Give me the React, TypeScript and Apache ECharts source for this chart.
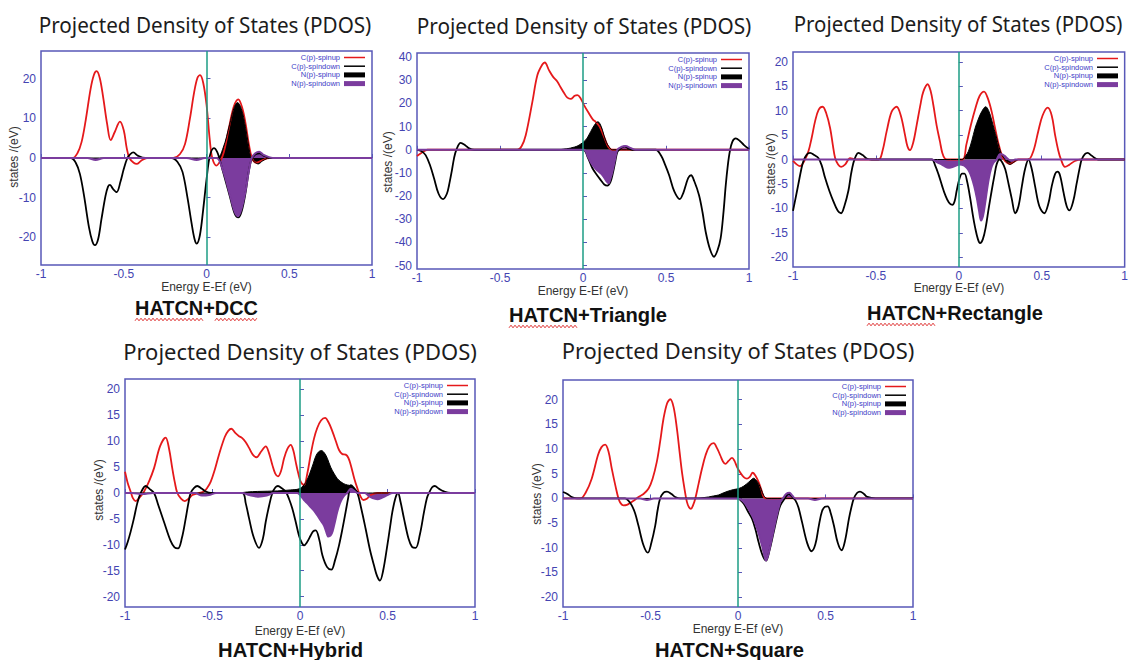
import React, { useEffect, useRef } from "react";
import * as echarts from "echarts";

// ---------- PDOS data: [E - Ef (eV), states/(eV)] ----------
// HATCN+DCC
const dccCUp = [[-1,0],[-0.81,0],[-0.78,1.2],[-0.755,4],[-0.73,9.5],[-0.7,17.5],[-0.68,21],[-0.664,21.9],[-0.645,20.2],[-0.625,15.5],[-0.6,8.5],[-0.579,4.5],[-0.555,6.5],[-0.523,9.2],[-0.5,7],[-0.482,2.5],[-0.466,0],[-0.44,-1.2],[-0.422,-1.5],[-0.395,-0.7],[-0.36,0],[-0.2,0],[-0.16,1],[-0.13,3.5],[-0.1,10],[-0.075,16.5],[-0.055,20.2],[-0.039,20.9],[-0.02,19],[0,13.5],[0.02,4.5],[0.035,0],[0.06,-1.9],[0.085,-0.6],[0.105,1.5],[0.135,7.5],[0.165,13],[0.192,14.8],[0.215,12.8],[0.237,8.5],[0.256,3.5],[0.275,0],[0.3,-1.2],[0.34,-0.5],[0.38,0],[1,0]];
const dccCDown = [[-1,0],[-0.82,0],[-0.79,-1.2],[-0.765,-4],[-0.74,-9.5],[-0.71,-17.5],[-0.69,-21],[-0.674,-22],[-0.655,-20.5],[-0.635,-15.5],[-0.61,-9.5],[-0.595,-7.2],[-0.583,-6.8],[-0.565,-7.8],[-0.543,-8.6],[-0.52,-6],[-0.5,-2.8],[-0.478,0],[-0.46,1],[-0.442,1.4],[-0.415,0.6],[-0.37,0],[-0.21,0],[-0.175,-1],[-0.145,-3.5],[-0.115,-10],[-0.09,-16.5],[-0.072,-20.5],[-0.059,-21.6],[-0.04,-19.5],[-0.02,-13],[0,-5.5],[0.02,0.5],[0.045,2.5],[0.065,1.5],[0.08,-0.5],[0.1,-3.5],[0.14,-9.5],[0.17,-14],[0.192,-15],[0.212,-13.5],[0.235,-9],[0.255,-3.5],[0.275,0],[0.3,1],[0.32,1.2],[0.35,0.5],[0.39,0],[1,0]];
const dccNUp = [[-1,0],[0.06,0],[0.1,2.5],[0.14,8.5],[0.165,12.5],[0.187,14],[0.21,12.5],[0.235,8],[0.255,3],[0.27,0],[0.29,-1],[0.313,-1.5],[0.34,-0.7],[0.38,0],[1,0]];
const dccNDown = [[-1,0],[-0.72,0],[-0.67,-0.5],[-0.62,0],[-0.12,0],[-0.06,-0.5],[-0.01,0],[0.06,0],[0.1,-3.2],[0.14,-9],[0.17,-13.5],[0.19,-14.7],[0.21,-13],[0.235,-8.5],[0.255,-3.5],[0.273,0],[0.295,1.2],[0.318,1.6],[0.345,0.8],[0.4,0],[1,0]];

// HATCN+Triangle
const triCUp = [[-1,-2.7],[-0.97,-1.2],[-0.937,0],[-0.395,0],[-0.37,1.5],[-0.345,6.3],[-0.305,20.7],[-0.275,32.2],[-0.245,36.8],[-0.23,37.7],[-0.205,34.4],[-0.18,31.5],[-0.155,29.5],[-0.135,27],[-0.114,24.5],[-0.094,22.5],[-0.074,22],[-0.05,23.3],[-0.034,23.6],[-0.014,22.2],[0.006,19.3],[0.036,15.7],[0.06,13],[0.076,12.1],[0.1,10],[0.13,5],[0.155,1],[0.18,0],[1,0]];
const triCDown = [[-1,0],[-0.975,-0.5],[-0.948,-2.3],[-0.92,-7],[-0.897,-12.4],[-0.87,-19],[-0.843,-21.3],[-0.82,-19],[-0.807,-15.3],[-0.79,-9],[-0.777,-3.7],[-0.763,0],[-0.737,3],[-0.71,2],[-0.686,0.6],[-0.656,0],[0,0],[0.03,-3.5],[0.057,-8],[0.085,-11],[0.107,-13.1],[0.128,-15],[0.147,-15.5],[0.165,-14],[0.177,-11],[0.192,-6],[0.207,-0.9],[0.227,0.6],[0.25,1.5],[0.275,0.6],[0.3,0],[0.438,0],[0.47,-2.5],[0.495,-6.5],[0.519,-11],[0.55,-18],[0.583,-21.3],[0.605,-18.5],[0.619,-15.3],[0.635,-12],[0.651,-11],[0.67,-13.5],[0.699,-19.6],[0.72,-27],[0.739,-35.4],[0.765,-43],[0.789,-46.2],[0.81,-43.5],[0.829,-38.3],[0.845,-28],[0.86,-15.3],[0.872,-7],[0.884,-0.9],[0.9,3.5],[0.92,4.9],[0.945,3.8],[0.97,2],[1,0.3]];
const triNUp = [[-1,0],[-0.164,0],[-0.1,0.4],[-0.05,1.2],[-0.024,2],[0.016,4.2],[0.046,7.8],[0.07,10.8],[0.09,12.1],[0.11,10],[0.126,6.3],[0.142,3],[0.157,1.3],[0.177,0],[1,0]];
const triNDown = [[-1,0],[0.005,0],[0.03,-3],[0.057,-6.6],[0.087,-9],[0.117,-10.9],[0.14,-13.5],[0.153,-14.5],[0.165,-12.5],[0.177,-9.5],[0.192,-4.5],[0.207,0],[0.23,1.2],[0.257,1.6],[0.285,0.8],[0.317,0],[1,0]];

// HATCN+Rectangle
const recCUp = [[-1,-0.3],[-0.978,-1],[-0.958,-1.35],[-0.935,-0.5],[-0.907,1.7],[-0.887,4.5],[-0.867,7.8],[-0.845,10.2],[-0.821,10.8],[-0.8,9.5],[-0.776,6.4],[-0.76,3],[-0.746,0.3],[-0.728,-1],[-0.71,-1.5],[-0.685,-1],[-0.656,0.3],[-0.626,0],[-0.485,0],[-0.46,1.8],[-0.435,5.8],[-0.405,9.8],[-0.375,10.8],[-0.35,9],[-0.325,5.1],[-0.31,2.7],[-0.295,1.9],[-0.275,3.5],[-0.254,7.1],[-0.23,11.5],[-0.214,13.9],[-0.188,15.4],[-0.17,14],[-0.154,11.2],[-0.134,7],[-0.114,3.7],[-0.1,1.4],[-0.084,0.2],[-0.06,0],[0.022,0],[0.045,3],[0.073,7.1],[0.1,10.5],[0.125,13],[0.152,13.9],[0.175,12.5],[0.198,9.8],[0.218,6.5],[0.238,3.4],[0.258,1],[0.278,-0.3],[0.308,-0.9],[0.34,-0.3],[0.359,0],[0.419,0],[0.45,1.8],[0.479,5.8],[0.505,9],[0.536,10.6],[0.56,9],[0.58,5.1],[0.6,1.8],[0.616,0],[0.64,-1.5],[0.665,-1.1],[0.7,-0.3],[0.74,0],[1,0]];
const recCDown = [[-1,-10.5],[-0.985,-8],[-0.968,-5.1],[-0.95,-2],[-0.937,-0.3],[-0.917,1],[-0.897,1.35],[-0.872,0.9],[-0.847,0.3],[-0.827,-1.2],[-0.807,-3.7],[-0.78,-6.5],[-0.757,-8.5],[-0.73,-10.5],[-0.71,-11],[-0.69,-9.5],[-0.666,-6.4],[-0.65,-3],[-0.636,-0.7],[-0.62,0.8],[-0.606,1.35],[-0.58,0.9],[-0.556,0.2],[-0.526,0],[-0.163,0],[-0.143,-1.2],[-0.123,-3],[-0.1,-5.5],[-0.084,-7.1],[-0.06,-8.8],[-0.039,-9.3],[-0.025,-8.5],[-0.013,-6.4],[0.005,-3.8],[0.02,-2.9],[0.034,-2.9],[0.05,-4.5],[0.068,-7.8],[0.085,-11.5],[0.098,-13.9],[0.115,-16.3],[0.128,-17.1],[0.145,-16.3],[0.162,-13.9],[0.18,-10],[0.198,-6.4],[0.215,-3.2],[0.228,-1],[0.245,0],[0.262,-0.6],[0.28,-2],[0.3,-5],[0.319,-8],[0.34,-11],[0.36,-9.5],[0.38,-5.5],[0.399,-2],[0.42,0],[0.44,-2],[0.46,-5.5],[0.485,-9.5],[0.515,-11],[0.54,-9],[0.56,-5.5],[0.58,-3],[0.595,-2.5],[0.61,-3.2],[0.63,-6.5],[0.65,-9.5],[0.667,-10.4],[0.69,-8.5],[0.71,-5],[0.73,-1.5],[0.741,0],[0.76,1.1],[0.777,1.35],[0.8,0.8],[0.84,0],[1,0]];
const recNUp = [[-1,0],[0.018,0],[0.04,0.7],[0.058,1.7],[0.078,3.8],[0.098,6.4],[0.118,8.3],[0.138,9.8],[0.162,10.8],[0.18,10],[0.198,8.1],[0.213,6.2],[0.228,4.4],[0.243,2.5],[0.258,1],[0.278,0],[0.293,-0.7],[0.308,-1],[0.33,-0.6],[0.359,0],[1,0]];
const recNDown = [[-1,0],[-0.163,0],[-0.13,-0.6],[-0.104,-1],[-0.084,-1.4],[-0.064,-1.7],[-0.044,-1.6],[-0.024,-1.35],[0.006,-1],[0.03,-1.2],[0.048,-1.7],[0.065,-2.6],[0.078,-3.7],[0.093,-5.5],[0.108,-7.8],[0.122,-10.5],[0.134,-12.5],[0.146,-11.5],[0.158,-9.1],[0.17,-6.2],[0.182,-3.7],[0.195,-1.8],[0.208,-0.7],[0.228,0],[0.248,1.15],[0.265,1],[0.278,0.7],[0.3,0],[0.319,-0.3],[0.34,0],[1,0]];

// HATCN+Hybrid
const hybCUp = [[-1,4.1],[-0.985,2],[-0.968,0.3],[-0.955,-1],[-0.939,-1.55],[-0.915,-0.8],[-0.891,0.3],[-0.862,2.3],[-0.834,4.8],[-0.8,9],[-0.768,10.7],[-0.748,8.5],[-0.73,4.8],[-0.715,2],[-0.701,0],[-0.68,-1.1],[-0.659,-1.55],[-0.637,-1.1],[-0.615,-0.4],[-0.58,0],[-0.549,0.3],[-0.53,1],[-0.51,2.2],[-0.487,4.5],[-0.463,7.4],[-0.43,10.8],[-0.41,12],[-0.392,12.4],[-0.37,11.6],[-0.35,11],[-0.33,10.6],[-0.31,9.8],[-0.291,8.7],[-0.27,7.4],[-0.248,6.9],[-0.222,8],[-0.196,9],[-0.178,7.8],[-0.158,5.4],[-0.142,3.8],[-0.126,3.2],[-0.108,4.3],[-0.091,6.7],[-0.072,8.5],[-0.053,9.3],[-0.038,8.2],[-0.025,6.1],[-0.01,3.8],[0.004,2.2],[0.023,1.55],[0.042,3.8],[0.061,7.4],[0.08,10.5],[0.099,12.6],[0.12,14],[0.143,14.5],[0.165,13.5],[0.185,11.9],[0.205,10],[0.223,8.3],[0.242,7.5],[0.261,7.4],[0.276,6.8],[0.29,5.4],[0.31,2.8],[0.328,0.9],[0.345,-0.6],[0.362,-1.35],[0.382,-1.1],[0.404,-0.4],[0.442,0],[1,0]];
const hybCDown = [[-1,-10.9],[-0.985,-9.5],[-0.968,-7.5],[-0.949,-4.9],[-0.93,-2],[-0.91,0],[-0.882,1.35],[-0.86,0.8],[-0.834,0],[-0.81,-2.3],[-0.777,-5.6],[-0.74,-9.2],[-0.717,-10.5],[-0.697,-10.7],[-0.675,-8.7],[-0.653,-4.9],[-0.638,-2],[-0.625,0],[-0.605,1],[-0.587,1.35],[-0.56,0.8],[-0.539,0.3],[-0.51,0],[-0.33,0],[-0.31,-2],[-0.291,-4.9],[-0.265,-8.5],[-0.234,-10.6],[-0.212,-8.8],[-0.196,-5.6],[-0.177,-2.5],[-0.158,0],[-0.14,1.1],[-0.126,1.35],[-0.104,0.9],[-0.082,0.3],[-0.062,-1.2],[-0.044,-3],[-0.025,-5.5],[-0.006,-8.2],[0.01,-9.6],[0.023,-10.1],[0.04,-9.5],[0.061,-8.2],[0.075,-7.4],[0.09,-7.2],[0.11,-9],[0.128,-12],[0.155,-14.3],[0.179,-14.8],[0.2,-13],[0.223,-10.1],[0.245,-6.5],[0.261,-3.6],[0.275,-1],[0.29,1.5],[0.305,1.1],[0.328,0],[0.35,-3],[0.375,-6.9],[0.4,-11],[0.423,-14],[0.44,-16],[0.457,-16.9],[0.475,-15],[0.499,-10.1],[0.515,-6.5],[0.528,-3.6],[0.545,-1],[0.56,0],[0.575,-1.8],[0.594,-4.9],[0.62,-8.8],[0.64,-10.4],[0.661,-10.6],[0.685,-8],[0.709,-3.6],[0.725,-1],[0.737,0],[0.755,1.1],[0.77,1.35],[0.795,0.8],[0.823,0.3],[0.861,0],[1,0]];
const hybNUp = [[-1,0],[-0.36,0],[-0.3,0.2],[-0.244,0.3],[-0.13,0.4],[-0.053,0.6],[-0.006,0.8],[0.023,1.55],[0.04,2.5],[0.055,3.7],[0.075,5.6],[0.09,7.1],[0.105,7.9],[0.122,8.2],[0.14,7.7],[0.156,6.7],[0.175,5],[0.194,3.8],[0.213,2.8],[0.232,2.2],[0.25,1.8],[0.27,1.55],[0.29,1.4],[0.305,1],[0.328,0.3],[0.347,0],[1,0]];
const hybNDown = [[-1,0],[-0.96,0],[-0.9,-0.2],[-0.84,0],[-0.6,0],[-0.56,-0.5],[-0.52,-0.4],[-0.48,0],[-0.33,0],[-0.29,-0.4],[-0.24,-0.7],[-0.19,-0.5],[-0.15,0],[-0.015,0],[0.005,-0.6],[0.023,-1.35],[0.042,-2],[0.061,-2.7],[0.08,-3.4],[0.099,-4.3],[0.118,-5.3],[0.137,-6.3],[0.15,-7.5],[0.162,-8.4],[0.175,-8.2],[0.187,-7.3],[0.2,-5.5],[0.213,-3.6],[0.228,-2],[0.242,-1],[0.258,-0.3],[0.27,0],[0.29,0.8],[0.31,0.4],[0.328,0],[0.37,0],[0.39,-0.5],[0.415,-1],[0.442,-1.2],[0.47,-0.9],[0.499,-0.4],[0.53,0],[1,0]];

// HATCN+Square
const squCUp = [[-1,0],[-0.9,0],[-0.87,1.2],[-0.836,4],[-0.8,8.8],[-0.78,10.4],[-0.759,10.9],[-0.74,9.5],[-0.721,6],[-0.7,2.5],[-0.683,0],[-0.67,-1],[-0.655,-1.4],[-0.635,-1.3],[-0.616,-0.9],[-0.59,-0.3],[-0.569,0.3],[-0.54,0.9],[-0.511,2],[-0.488,4],[-0.464,7.4],[-0.445,11.5],[-0.426,16.1],[-0.405,19.3],[-0.387,20.1],[-0.368,18.5],[-0.349,14.1],[-0.334,9.5],[-0.32,5.3],[-0.305,1.8],[-0.292,-0.7],[-0.28,-1.8],[-0.269,-2.1],[-0.256,-1.3],[-0.244,0],[-0.225,3],[-0.206,6],[-0.185,8.8],[-0.162,10.7],[-0.139,11.2],[-0.12,10.2],[-0.101,8.7],[-0.086,7.5],[-0.072,7],[-0.054,7.6],[-0.034,8.2],[-0.02,7.6],[-0.006,6.4],[0.01,5.4],[0.033,4.3],[0.051,4],[0.068,4.4],[0.084,5.2],[0.1,4.6],[0.118,3.3],[0.133,1.8],[0.147,0.3],[0.166,0],[1,0]];
const squCDown = [[-1,1.3],[-0.975,0.9],[-0.95,0.3],[-0.92,0],[-0.645,0],[-0.625,-0.5],[-0.607,-1.4],[-0.588,-3],[-0.569,-5.5],[-0.54,-9.5],[-0.515,-11],[-0.495,-9],[-0.473,-5.5],[-0.46,-2.5],[-0.445,0],[-0.425,1.2],[-0.406,1.4],[-0.38,0.9],[-0.359,0.3],[-0.33,0],[0,0],[0.015,-0.4],[0.033,-1.1],[0.055,-2.5],[0.08,-4.1],[0.1,-6.3],[0.118,-8.9],[0.14,-11.5],[0.16,-12.6],[0.18,-10.5],[0.204,-6.8],[0.225,-3.5],[0.242,-1.4],[0.267,0],[0.29,0.95],[0.31,0.3],[0.328,-0.4],[0.345,-1.8],[0.366,-4.8],[0.395,-9],[0.42,-10.7],[0.442,-9.3],[0.462,-5.5],[0.48,-2.6],[0.497,-1.7],[0.513,-1.6],[0.53,-3],[0.548,-5.5],[0.57,-9],[0.592,-10.5],[0.612,-8.5],[0.634,-4.1],[0.648,-1.8],[0.662,0],[0.68,1.1],[0.697,1.4],[0.72,0.9],[0.739,0.3],[0.786,0],[1,0]];
const squNUp = [[-1,0],[-0.244,0],[-0.2,0.15],[-0.168,0.3],[-0.14,0.5],[-0.111,0.7],[-0.085,1.1],[-0.063,1.4],[-0.025,1.8],[0.004,2],[0.033,2.5],[0.061,3.3],[0.08,3.9],[0.09,4.1],[0.104,3.7],[0.118,3],[0.133,1.8],[0.147,0.6],[0.166,0],[1,0]];
const squNDown = [[-1,0],[-0.56,0],[-0.52,-0.3],[-0.48,0],[0,0],[0.033,-0.7],[0.05,-1.5],[0.071,-2.8],[0.09,-4.2],[0.109,-6.1],[0.125,-8],[0.137,-9.5],[0.15,-11.5],[0.16,-12.6],[0.172,-11.5],[0.185,-9.5],[0.2,-7],[0.213,-4.8],[0.228,-2.5],[0.242,-0.7],[0.256,0],[0.275,0.9],[0.294,1.15],[0.31,0.6],[0.328,0],[0.4,0],[0.44,-0.3],[0.48,0],[1,0]];

// ---------- tick labels ----------
const xTicks = [-1, -0.5, 0, 0.5, 1];
const dccTicks = [-20, -10, 0, 10, 20];
const triTicks = [-50, -40, -30, -20, -10, 0, 10, 20, 30, 40];
const step5Ticks = [-20, -15, -10, -5, 0, 5, 10, 15, 20];

const seriesNames = ["C(p)-spinup", "C(p)-spindown", "N(p)-spinup", "N(p)-spindown"];
const titleText = "Projected Density of States (PDOS)";
const xName = "Energy E-Ef (eV)";
const yName = "states /(eV)";

// ---------- look ----------
const RED = "#e5191b";
const BLACK = "#000000";
const PURPLE = "#7b3c9e";
const GREEN = "#1d9c84";
const TICK_BLUE = "#4444b2";
const FRAME = "#5858b8";
const LEGEND_BLUE = "#3d3dc6";
const TITLE_FONT = '"Noto Sans", "Open Sans", sans-serif';
const SANS = '"Liberation Sans", Arial, sans-serif';

// layout of each panel (pixels)
const panels = [
  { name: "HATCN+DCC", grid: { left: 41, top: 51, width: 331, height: 214 }, yMin: -27, yMax: 27, ticks: dccTicks,
    series: [dccCUp, dccCDown, dccNUp, dccNDown], title: [205, 25, 333], label: [196.5, 308, 123], yLab: [14, 157], xLab: 287, squiggleAll: true },
  { name: "HATCN+Triangle", grid: { left: 417, top: 53, width: 332, height: 216 }, yMin: -51.5, yMax: 41.8, ticks: triTicks,
    series: [triCUp, triCDown, triNUp, triNDown], title: [584, 26, 335], label: [588, 315, 158], yLab: [388, 162], xLab: 291, squiggleAll: false },
  { name: "HATCN+Rectangle", grid: { left: 793, top: 52, width: 332, height: 215 }, yMin: -22, yMax: 22, ticks: step5Ticks,
    series: [recCUp, recCDown, recNUp, recNDown], title: [958, 24, 329], label: [955, 313, 176], yLab: [771, 164], xLab: 288, squiggleAll: false },
  { name: "HATCN+Hybrid", grid: { left: 125, top: 379, width: 350, height: 228 }, yMin: -22, yMax: 22, ticks: step5Ticks,
    series: [hybCUp, hybCDown, hybNUp, hybNDown], title: [300, 352, 354], label: [290.5, 650, 145], yLab: [99, 490], xLab: 631, squiggleAll: false },
  { name: "HATCN+Square", grid: { left: 563, top: 380, width: 350, height: 227 }, yMin: -22, yMax: 24, ticks: step5Ticks,
    series: [squCUp, squCDown, squNUp, squNDown], title: [738, 351, 353], label: [729.5, 650, 149], yLab: [537, 494], xLab: 629, squiggleAll: false },
];

const measureCtx = typeof document !== "undefined" ? document.createElement("canvas").getContext("2d") : null;
function textWidth(text: string, font: string) {
  if (!measureCtx) return text.length * 10;
  measureCtx.font = font;
  return measureCtx.measureText(text).width;
}

// red wavy underline
function squiggle(x0: number, x1: number, y: number) {
  const pts: number[][] = [];
  let i = 0;
  for (let x = x0; x <= x1; x += 2, i++) pts.push([x, y + (i % 2 === 0 ? 1.3 : -1.3)]);
  return { type: "polyline", silent: true, shape: { points: pts }, style: { stroke: "#e03b3b", lineWidth: 1, fill: null } };
}

function buildOption() {
  const grid: any[] = [];
  const xAxis: any[] = [];
  const yAxis: any[] = [];
  const series: any[] = [];
  const graphic: any[] = [];

  panels.forEach((p, gi) => {
    grid.push({ ...p.grid, show: true, borderColor: FRAME, borderWidth: 1.5, backgroundColor: "transparent", containLabel: false });
    xAxis.push({
      type: "value", gridIndex: gi, min: -1, max: 1, interval: 0.5,
      axisLine: { show: false }, splitLine: { show: false },
      axisTick: { show: true, inside: true, length: 4, lineStyle: { color: FRAME } },
      axisLabel: { color: TICK_BLUE, fontSize: 12, fontFamily: SANS, margin: 3, customValues: xTicks,
        formatter: (v: number) => String(v) },
    });
    yAxis.push({
      type: "value", gridIndex: gi, min: p.yMin, max: p.yMax,
      axisLine: { show: false }, splitLine: { show: false },
      axisTick: { show: true, inside: true, length: 4, customValues: p.ticks, lineStyle: { color: FRAME } },
      axisLabel: { color: TICK_BLUE, fontSize: 12, fontFamily: SANS, margin: 5, customValues: p.ticks },
    });

    const [cUp, cDown, nUp, nDown] = p.series;
    const base = { type: "line", xAxisIndex: gi, yAxisIndex: gi, showSymbol: false, symbol: "none", smooth: 0.35, silent: true };
    series.push({ ...base, name: seriesNames[0], data: cUp, lineStyle: { color: RED, width: 1.8 } });
    series.push({ ...base, name: seriesNames[1], data: cDown, lineStyle: { color: BLACK, width: 1.8 } });
    series.push({ ...base, name: seriesNames[2], data: nUp, lineStyle: { color: BLACK, width: 1 },
      areaStyle: { color: BLACK, opacity: 1, origin: "auto" } });
    series.push({ ...base, name: seriesNames[3], data: nDown, lineStyle: { color: PURPLE, width: 2 },
      areaStyle: { color: PURPLE, opacity: 1, origin: "auto" },
      markLine: { silent: true, symbol: ["none", "none"], label: { show: false },
        lineStyle: { color: GREEN, width: 1.5, type: "solid" }, data: [{ xAxis: 0 }] } });

    const right = p.grid.left + p.grid.width;
    const top = p.grid.top;
    const cx = p.grid.left + p.grid.width / 2;

    // title
    const tFont = `21px ${TITLE_FONT}`;
    const tSx = p.title[2] / textWidth(titleText, tFont);
    graphic.push({ type: "text", x: p.title[0], y: p.title[1], scaleX: tSx, silent: true,
      style: { text: titleText, fontSize: 21, fontFamily: TITLE_FONT, fill: "#1c1c1c", textAlign: "center", textVerticalAlign: "middle" } });

    // axis names
    graphic.push({ type: "text", x: cx, y: p.xLab, silent: true,
      style: { text: xName, fontSize: 12, fontFamily: SANS, fill: "#333333", textAlign: "center", textVerticalAlign: "middle" } });
    graphic.push({ type: "text", x: p.yLab[0], y: p.yLab[1], rotation: Math.PI / 2, silent: true,
      style: { text: yName, fontSize: 12, fontFamily: SANS, fill: "#333333", textAlign: "center", textVerticalAlign: "middle" } });

    // system label below the panel
    const lFont = `bold 20px ${SANS}`;
    const lSx = p.label[2] / textWidth(p.name, lFont);
    graphic.push({ type: "text", x: p.label[0], y: p.label[1], scaleX: lSx, silent: true,
      style: { text: p.name, fontSize: 20, fontWeight: "bold", fontFamily: SANS, fill: "#111111", textAlign: "center", textVerticalAlign: "middle" } });
    const lx0 = p.label[0] - p.label[2] / 2;
    const wHatcn = textWidth("HATCN", lFont) * lSx;
    graphic.push(squiggle(lx0, lx0 + wHatcn, p.label[1] + 11.5));
    if (p.squiggleAll) {
      const wPre = textWidth("HATCN+", lFont) * lSx;
      graphic.push(squiggle(lx0 + wPre, lx0 + p.label[2], p.label[1] + 11.5));
    }

    // key
    const sEnd = right - 7;
    const sStart = sEnd - 21;
    seriesNames.forEach((n, i) => {
      const y = top + 6.5 + i * 8.7;
      graphic.push({ type: "text", x: sStart - 4, y, silent: true,
        style: { text: n, fontSize: 7.5, fontFamily: SANS, fill: LEGEND_BLUE, textAlign: "right", textVerticalAlign: "middle" } });
      if (i < 2) {
        graphic.push({ type: "line", silent: true, shape: { x1: sStart, y1: y, x2: sEnd, y2: y },
          style: { stroke: i === 0 ? RED : BLACK, lineWidth: 1.5 } });
      } else {
        graphic.push({ type: "rect", silent: true, shape: { x: sStart, y: y - 2.5, width: 21, height: 5 },
          style: { fill: i === 2 ? BLACK : PURPLE } });
      }
    });
  });

  return { animation: false, backgroundColor: "#ffffff", grid, xAxis, yAxis, series, graphic };
}

export default function App() {
  const ref = useRef<HTMLDivElement>(null);
  useEffect(() => {
    if (!ref.current) return;
    const chart = echarts.init(ref.current, null, { renderer: "svg" });
    chart.setOption(buildOption() as any);
    return () => chart.dispose();
  }, []);
  return (
    <div
      ref={ref}
      style={{ position: "absolute", left: 0, top: 0, width: 1131, height: 660, background: "#ffffff" }}
    />
  );
}
